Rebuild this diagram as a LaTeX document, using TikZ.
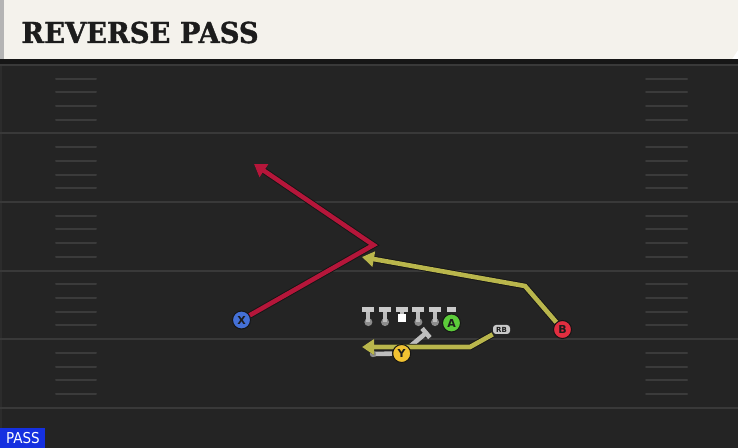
\documentclass[tikz,border=0pt]{standalone}
\usepackage{fontspec}
\newfontfamily\titlefont{DejaVu Serif}[FakeStretch=0.95, BoldFeatures={FakeBold=1.2}]
\newfontfamily\tagfont{DejaVu Sans Condensed}
\newfontfamily\keyfont{DejaVu Sans}
\usetikzlibrary{arrows.meta,positioning}

\definecolor{field}{HTML}{242424}
\definecolor{band}{HTML}{161616}
\definecolor{edge}{HTML}{2C2C2C}
\definecolor{yardln}{HTML}{393939}
\definecolor{hashln}{HTML}{3B3B3B}
\definecolor{paper}{HTML}{F4F2EC}
\definecolor{edgegray}{HTML}{B4B4B4}
\definecolor{ink}{HTML}{1C1C1C}
\definecolor{rim}{HTML}{151515}
\definecolor{redrt}{HTML}{B5163A}
\definecolor{yelrt}{HTML}{B9B64C}
\definecolor{xblue}{HTML}{4470D6}
\definecolor{bred}{HTML}{E12E40}
\definecolor{agreen}{HTML}{5CCB3A}
\definecolor{yyel}{HTML}{F1C232}
\definecolor{block}{HTML}{BDBDBD}
\definecolor{barlt}{HTML}{CACACA}
\definecolor{knob}{HTML}{8C8C8C}
\definecolor{rbgray}{HTML}{C8C8C8}
\definecolor{passblue}{HTML}{1530E0}

\pgfdeclarelayer{turf}
\pgfdeclarelayer{marks}
\pgfsetlayers{turf,marks,main}

\begin{document}
\begin{tikzpicture}[%
    x=0.5pt, y=-0.5pt,          % one unit = one pixel of the play art, y runs down
    >={Triangle[length=6pt, width=7.5pt]}, % same tip on every route
    node distance=8.33pt,       % spacing of the line men
    ]
% -------------------------------------------------
% Styles
\tikzset{
  yard/.style={draw=yardln, line width=1pt},
  hash/.style={draw=hashln, line width=1pt, line cap=round},
  ply/.style={circle, draw=rim, line width=0.5pt, inner sep=0pt, minimum size=9pt,
    text=ink, font={\keyfont\bfseries\fontsize{5.5}{6}\selectfont}},
  man/.style={circle, fill=knob, inner sep=0pt, minimum size=4pt, on grid},
  snap/.style={fill=white, inner sep=0pt, minimum size=4pt, on grid},
  stem/.style={draw=block, line width=2pt},
  bar/.style={draw=barlt, line width=2.5pt},
  rte/.style={->, line width=2.3pt, preaction={draw=rim, line width=3.2pt}},
  blk/.style={draw=block, line width=2.3pt},
  rbox/.style={fill=rbgray, rounded corners=1.5pt, inner sep=0pt, minimum width=8.5pt,
    minimum height=4.5pt, text=ink, font={\keyfont\bfseries\fontsize{3.5}{4}\selectfont}},
  tag/.style={fill=passblue, text=white, inner sep=0pt, minimum width=22.5pt,
    minimum height=10pt, anchor=south west, font={\tagfont\fontsize{7.5}{8}\selectfont}}
}
\useasboundingbox (0,0) rectangle (738,448);
% -------------------------------------------------
% Field and header card
\begin{pgfonlayer}{turf}
  \fill[field] (0,59) rectangle (738,448);
  \fill[band] (0,59) rectangle (738,64);
  \fill[edge] (0,64) rectangle (2,448);
  \foreach \k in {0,...,5}
    \draw[yard] (0,{64.8+68.6*\k}) -- (738,{64.8+68.6*\k});
  \foreach \k in {0,...,4}
    \foreach \j in {1,...,4}{
      \draw[hash] (56,{64.8+68.6*\k+13.72*\j}) -- (96,{64.8+68.6*\k+13.72*\j});
      \draw[hash] (646,{64.8+68.6*\k+13.72*\j}) -- (687,{64.8+68.6*\k+13.72*\j});
    }
  \fill[paper] (4,0) -- (738,0) -- (738,50) -- (732,59) -- (4,59) -- cycle;
  \fill[edgegray] (0,0) rectangle (4,59);
\end{pgfonlayer}

\node[anchor=base west, inner sep=0pt, text=ink,
  font={\titlefont\bfseries\fontsize{14.4}{16}\selectfont}] (title) at (21,43) {REVERSE PASS};
\node[tag] (mode) at (0,448) {PASS};
% -------------------------------------------------
% Line men, snap in the middle
\node[snap] (c) at (401.7,318.3) {};
\node[man, left=of c, yshift=-1.9pt] (lg) {};
\node[man, left=of lg] (lt) {};
\node[man, right=of c, yshift=-1.9pt] (rg) {};
\node[man, right=of rg] (rt) {};

\foreach \p in {lt,lg,rg,rt}{
  \draw[stem] (\p.center) -- ++(0,-11);
  \draw[bar] ([yshift=6.25pt]\p.center) ++(-6,0) -- ++(12,0);
}
\draw[stem] (c.north) -- ++(0,-4.8);
\draw[bar] ([yshift=4.4pt]c.center) ++(-6,0) -- ++(12,0);

% -------------------------------------------------
% Players
\node[ply, fill=agreen] (A) at (451.5,323) {A};
\draw[bar] ([yshift=6.75pt]A.center) ++(-4.5,0) -- ++(9,0);
\node[ply, fill=xblue] (X) at (241.5,320) {X};
\node[ply, fill=bred] (B) at (562.5,329.5) {B};
\node[rbox] (RB) at (501.5,329.5) {RB};

% Routes
\coordinate (xcut) at (373.5,245);
\coordinate (xend) at (254,164);
\coordinate (bcut) at (525,286);
\coordinate (bend) at (362,257);
\coordinate (rcut) at (470,347);
\coordinate (rend) at (362,347);

\draw[rte, redrt] (X) -- (xcut) -- (xend);		%X, post then back
\draw[rte, yelrt] (B) -- (bcut) -- (bend);		%B, reverse
\draw[rte, yelrt] (RB) -- (rcut) -- (rend);		%RB, fake

\node[ply, fill=yyel] (Y) at (401.7,353.5) {Y};

% Y: block and lead
\coordinate (ytip) at (426,333);
\coordinate (ylead) at (373,354);
\begin{pgfonlayer}{marks}
  \draw[blk] (Y) -- (ytip);
  \draw[blk] ([shift={(-3.9,-4.6)}]ytip) -- ([shift={(3.9,4.6)}]ytip);
  \draw[blk] (Y) -- (ylead);
  \fill[knob] (ylead) circle (1.6pt);
\end{pgfonlayer}
% -------------------------------------------------
\end{tikzpicture}
\end{document}
